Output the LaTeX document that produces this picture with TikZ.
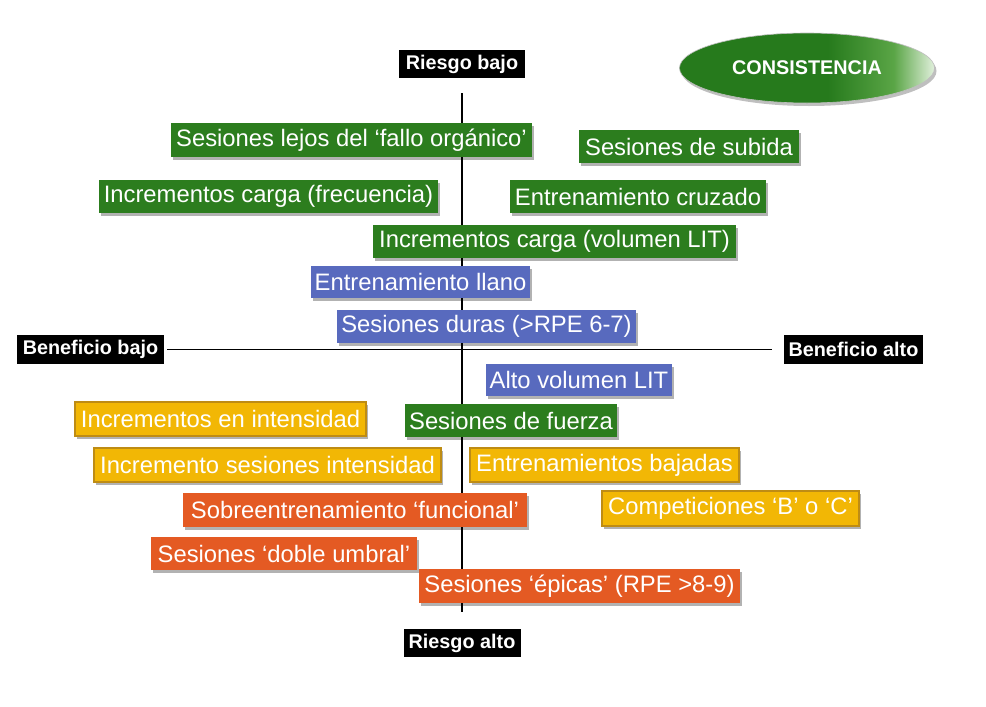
\documentclass[tikz,border=0pt]{standalone}
\usepackage{fontspec}
\setmainfont{Liberation Sans}
\usetikzlibrary{shadows,shapes.geometric}
\definecolor{cgreen}{RGB}{44,125,30}
\definecolor{cblue}{RGB}{88,106,190}
\definecolor{cyellow}{RGB}{242,183,5}
\definecolor{cyellowb}{RGB}{190,140,20}
\definecolor{corange}{RGB}{228,90,35}
\definecolor{eg1}{RGB}{38,122,28}
\definecolor{eg2}{RGB}{90,165,70}
\definecolor{eg3}{RGB}{225,240,220}
\pgfdeclarehorizontalshading{consist}{100bp}{color(0bp)=(eg1); color(25bp)=(eg1); color(54bp)=(eg1); color(67bp)=(eg2); color(75bp)=(eg3); color(100bp)=(eg3)}
\tikzset{
  box/.style={text=white, inner xsep=3pt, inner ysep=0pt, font=\fontsize{23.8}{27}\selectfont,
    drop shadow={shadow xshift=2pt, shadow yshift=-2.5pt, fill=black, opacity=0.3}},
  gbox/.style={box, fill=cgreen},
  bbox/.style={box, fill=cblue},
  ybox/.style={box, fill=cyellow, draw=cyellowb, line width=1.2pt},
  obox/.style={box, fill=corange},
  lbl/.style={fill=black, text=white, inner xsep=3pt, inner ysep=0pt, font=\bfseries\fontsize{19.8}{22}\selectfont},
  axis/.style={draw=black, line width=1.6pt}
}
\begin{document}
\begin{tikzpicture}[x=1pt,y=-1pt]
\useasboundingbox[fill=white] (0,0) rectangle (986,707);
% labels
\node[lbl, minimum width=126pt, minimum height=28pt] (rbajo) at (462,64) {Riesgo bajo};
\node[lbl, minimum width=117pt, minimum height=28pt] (ralto) at (462,643) {Riesgo alto};
\node[lbl, minimum width=147pt, minimum height=29pt] (bbajo) at (90.5,349.5) {Beneficio bajo};
\node[lbl, minimum width=139pt, minimum height=29pt] (balto) at (853.5,349.5) {Beneficio alto};
% axes
\draw[axis, shorten <=15pt, shorten >=17pt] (rbajo) -- (ralto);
\draw[axis, shorten <=3pt, shorten >=12pt] (bbajo) -- (balto);
% ellipse
\node[ellipse, shading=consist, draw=black!25, line width=0.6pt, minimum width=255pt, minimum height=70pt,
  text=white, font=\bfseries\fontsize{19.8}{22}\selectfont,
  drop shadow={shadow xshift=2pt, shadow yshift=-3pt, fill=black, opacity=0.25}] (cons) at (807,68) {CONSISTENCIA};
% boxes
\node[gbox, minimum width=361pt, minimum height=34pt] (b1) at (351.5,140) {Sesiones lejos del ‘fallo orgánico’};
\node[gbox, minimum width=220pt, minimum height=33pt] (b2) at (689,146.5) {Sesiones de subida};
\node[gbox, minimum width=339pt, minimum height=33pt] (b3) at (268.5,196.5) {Incrementos carga (frecuencia)};
\node[gbox, minimum width=256pt, minimum height=33pt] (b4) at (638,196.5) {Entrenamiento cruzado};
\node[gbox, minimum width=363pt, minimum height=33pt] (b5) at (554.5,241.5) {Incrementos carga (volumen LIT)};
\node[bbox, minimum width=219pt, minimum height=32pt] (b6) at (420.5,282) {Entrenamiento llano};
\node[bbox, minimum width=299pt, minimum height=33pt] (b7) at (486.5,326.5) {Sesiones duras (>RPE 6-7)};
\node[bbox, minimum width=186pt, minimum height=32pt] (b8) at (579,380) {Alto volumen LIT};
\node[ybox, minimum width=291pt, minimum height=34pt] (b9) at (220.5,419) {Incrementos en intensidad};
\node[gbox, minimum width=212pt, minimum height=33pt] (b10) at (511,420.5) {Sesiones de fuerza};
\node[ybox, minimum width=347pt, minimum height=34pt] (b11) at (267.5,465) {Incremento sesiones intensidad};
\node[ybox, minimum width=269pt, minimum height=34pt] (b12) at (604.5,465) {Entrenamientos bajadas};
\node[obox, minimum width=344pt, minimum height=34pt] (b13) at (355,510) {Sobreentrenamiento ‘funcional’};
\node[ybox, minimum width=257pt, minimum height=35pt] (b14) at (730.5,508.5) {Competiciones ‘B’ o ‘C’};
\node[obox, minimum width=266pt, minimum height=33pt] (b15) at (284,553.5) {Sesiones ‘doble umbral’};
\node[obox, minimum width=321pt, minimum height=34pt] (b16) at (579.5,586) {Sesiones ‘épicas’ (RPE >8-9)};
\end{tikzpicture}
\end{document}
